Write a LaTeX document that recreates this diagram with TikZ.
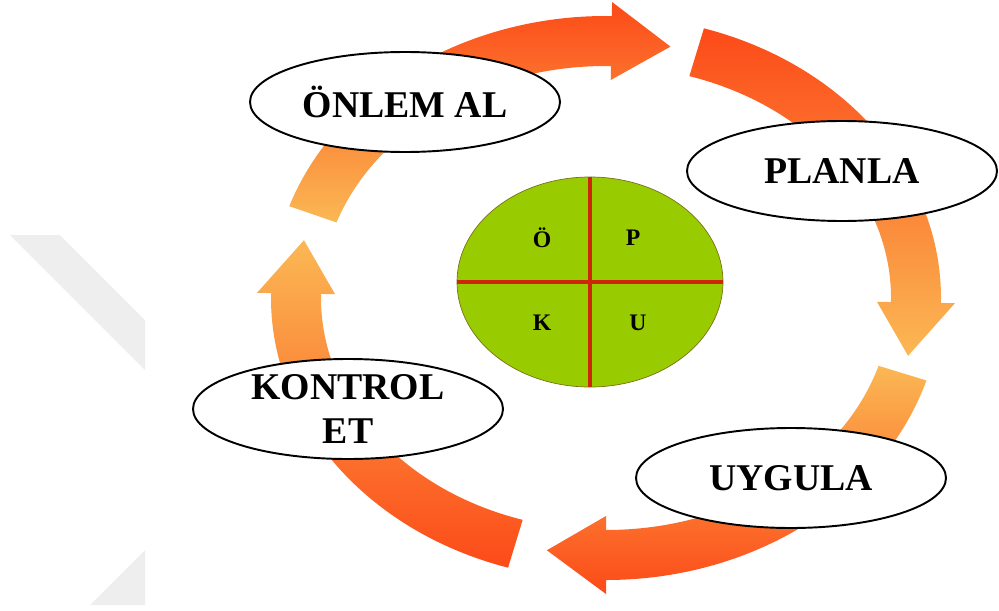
\documentclass[tikz,border=0pt]{standalone}
\usepackage{fontspec}
\setmainfont{Liberation Serif}
\usepackage{tikz}
\usetikzlibrary{shapes.geometric}
\definecolor{arrowred}{RGB}{252,74,24}
\definecolor{arrowlight}{RGB}{251,184,84}
\definecolor{coregreen}{RGB}{153,204,0}
\definecolor{coreline}{RGB}{204,40,8}
\definecolor{markgray}{RGB}{238,238,238}

\begin{document}
\begin{tikzpicture}[stage/.style={draw, ellipse, fill=white, line width=1.1pt, minimum width=6.2cm, minimum height=2cm, inner sep=0pt, align=center, font=\bfseries\fontsize{21.5}{25}\selectfont},
    letter/.style={font=\bfseries\fontsize{13.5}{15}\selectfont, inner sep=0pt}]

        \useasboundingbox (0,0) rectangle (19.98,12.2);

        % Watermark in the back
        \fill[markgray] (0.2,7.5) -- (1.2,7.5) -- (2.9,5.8) -- (2.9,4.8) -- cycle;
        \fill[markgray] (1.8,0.1) -- (2.9,1.2) -- (2.9,0.1) -- cycle;

        % Curved arrows of the cycle
        \begin{scope}[shift={(12.12,6.24)}]
        \shade[bottom color=arrowlight, top color=arrowred] (161:6.7cm and 5.64cm) arc[start angle=161, end angle=89, x radius=6.7cm, y radius=5.64cm] -- (89:6.98cm and 5.92cm) -- (78:6.2cm and 5.14cm) -- (89:5.42cm and 4.36cm) -- (89:5.7cm and 4.64cm) arc[start angle=89, end angle=161, x radius=5.7cm, y radius=4.64cm] -- cycle;
        \shade[top color=arrowred, bottom color=arrowlight] (73:6.7cm and 5.64cm) arc[start angle=73, end angle=-1, x radius=6.7cm, y radius=5.64cm] -- (-1:6.98cm and 5.92cm) -- (-13:6.2cm and 5.14cm) -- (-1:5.42cm and 4.36cm) -- (-1:5.7cm and 4.64cm) arc[start angle=-1, end angle=73, x radius=5.7cm, y radius=4.64cm] -- cycle;
        \shade[top color=arrowlight, bottom color=arrowred] (-17:6.7cm and 5.64cm) arc[start angle=-17, end angle=-90, x radius=6.7cm, y radius=5.64cm] -- (-90:6.98cm and 5.92cm) -- (-101:6.2cm and 5.14cm) -- (-90:5.42cm and 4.36cm) -- (-90:5.7cm and 4.64cm) arc[start angle=-90, end angle=-17, x radius=5.7cm, y radius=4.64cm] -- cycle;
        \shade[bottom color=arrowred, top color=arrowlight] (253:6.7cm and 5.64cm) arc[start angle=253, end angle=179, x radius=6.7cm, y radius=5.64cm] -- (179:6.98cm and 5.92cm) -- (167:6.2cm and 5.14cm) -- (179:5.42cm and 4.36cm) -- (179:5.7cm and 4.64cm) arc[start angle=179, end angle=253, x radius=5.7cm, y radius=4.64cm] -- cycle;
        \end{scope}

        % Steps
        \node (onlem) [stage] at (8.10,10.16) {ÖNLEM AL};
        \node (planla) [stage] at (16.84,8.78) {PLANLA};
        \node (uygula) [stage] at (15.82,2.64) {UYGULA};
        \node (kontrol) [stage] at (6.96,4.02) {KONTROL\\ET};

        % Middle circle
        \node (core) [draw=olive!80!black, ellipse, fill=coregreen, minimum width=5.32cm, minimum height=4.2cm] at (11.80,6.56) {};
        \draw[coreline, line width=2.2pt] (core.north) -- (core.south);
        \draw[coreline, line width=2.2pt] (core.west) -- (core.east);
        \node (lo) [letter] at (10.84,7.44) {Ö};
        \node (lp) [letter] at (12.66,7.44) {P};
        \node (lk) [letter] at (10.84,5.74) {K};
        \node (lu) [letter] at (12.76,5.74) {U};

\end{tikzpicture}
\end{document}
